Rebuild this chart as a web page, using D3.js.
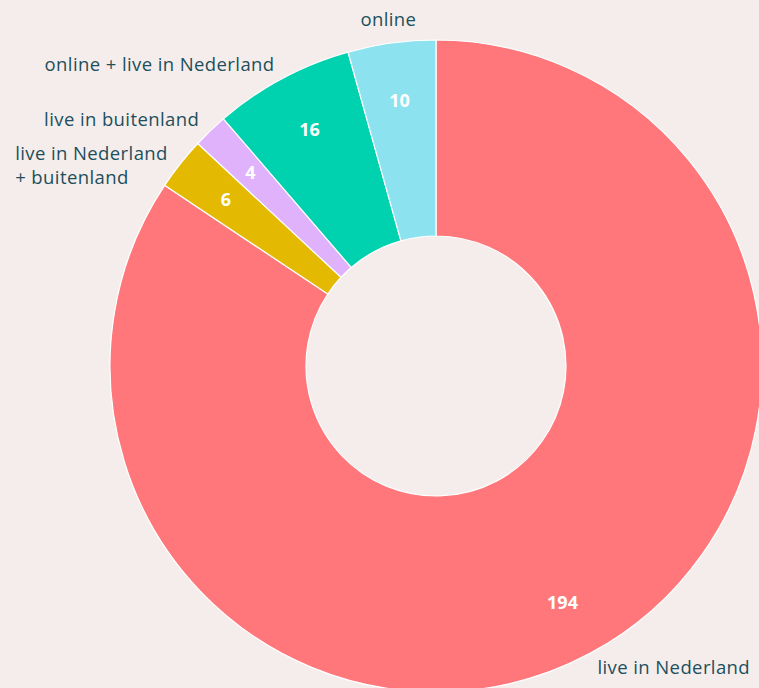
<!DOCTYPE html>
<html>
<head>
<meta charset="utf-8">
<title>Donut</title>
<script src="https://cdn.jsdelivr.net/npm/d3@7"></script>
<style>
  body { margin: 0; background: #f5edeb; }
  svg { display: block; }
  text { font-family: "Open Sans", "Noto Sans", sans-serif; }
</style>
</head>
<body>
<script>
    // data
    var categories = ["live in Nederland", "live in Nederland\n+ buitenland", "live in buitenland", "online + live in Nederland", "online"];
    var values = [194, 6, 4, 16, 10];
    var colors = ["#ff767b", "#e3b902", "#e0b2fb", "#00d1ae", "#8ce3ef"];

    var width = 759,
        height = 688,
        cx = 436,
        cy = 366,
        outer = 326,
        inner = 130;

    var data = categories.map(function(c, i){
        return {name: c, value: values[i], color: colors[i]};
    });

    var pie = d3.pie()
        .sort(null)
        .value(function(d){ return d.value; });

    var arc = d3.arc()
        .innerRadius(inner)
        .outerRadius(outer);

    var svg = d3.select("body").append("svg")
        .attr("width", width)
        .attr("height", height);

    var g = svg.append("g")
        .attr("transform", "translate(" + cx + "," + cy + ")");

    var arcs = pie(data);

    g.selectAll("path.slice")
        .data(arcs)
        .enter()
        .append("path")
        .attr("class", "slice")
        .attr("d", arc)
        .attr("fill", function(d){ return d.data.color; })
        .attr("stroke", "#ffffff")
        .attr("stroke-width", 1.2);

    // value labels inside the ring
    var valueRadius = 268;
    g.selectAll("text.value")
        .data(arcs)
        .enter()
        .append("text")
        .attr("class", "value")
        .attr("x", function(d){ return valueRadius * Math.sin(mid(d)); })
        .attr("y", function(d){ return -valueRadius * Math.cos(mid(d)); })
        .attr("text-anchor", "middle")
        .attr("dy", "0.35em")
        .attr("fill", "#ffffff")
        .attr("font-weight", "bold")
        .attr("font-size", 18)
        .text(function(d){ return d.data.value; });

    // category labels outside
    arcs.forEach(function(d){
        var a = mid(d),
            nearTop = Math.abs(Math.sin(a)) < 0.2,
            r = outer + (nearTop ? 24 : 16),
            x = r * Math.sin(a),
            y = -r * Math.cos(a),
            lines = d.data.name.split("\n");

        var t = g.append("text")
            .attr("fill", "#1d4f5c")
            .attr("font-size", 18.5)
            .attr("letter-spacing", 0.4);

        lines.forEach(function(l, i){
            t.append("tspan")
                .attr("x", x)
                .attr("y", y + i * 24)
                .attr("dy", "0.35em")
                .text(l);
        });

        if (nearTop) {
            t.attr("text-anchor", "middle");
        } else if (Math.sin(a) > 0) {
            t.attr("text-anchor", "start");
        } else {
            // right-aligned block, lines left-aligned inside it
            var w = d3.max(t.selectAll("tspan").nodes(), function(n){ return n.getComputedTextLength(); });
            t.selectAll("tspan").attr("x", x - w);
        }
    });

    function mid(d){
        return (d.startAngle + d.endAngle) / 2;
    }
</script>
</body>
</html>
